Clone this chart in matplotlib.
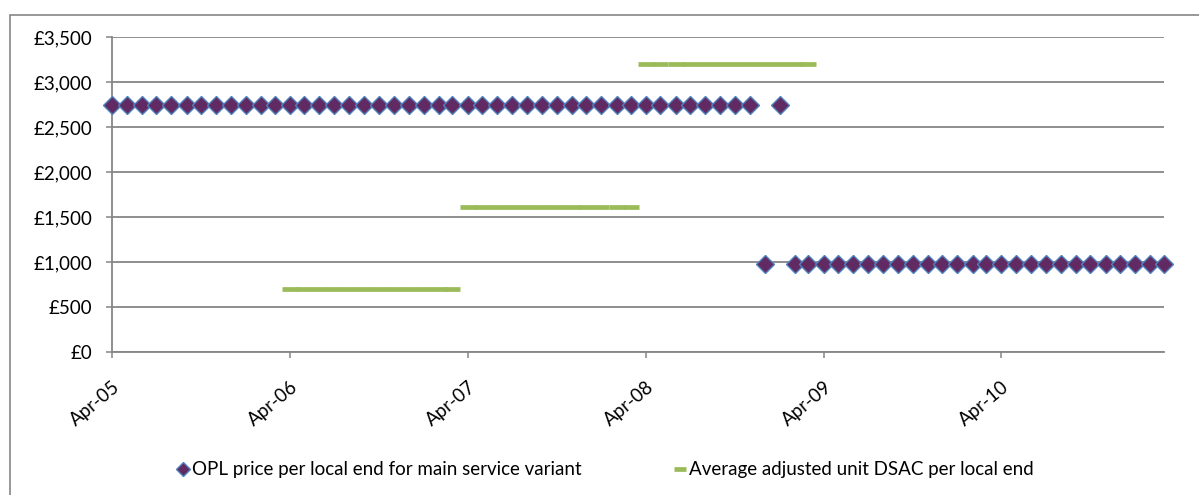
import matplotlib
matplotlib.use("Agg")
import matplotlib.pyplot as plt
from matplotlib.patches import Rectangle
from matplotlib.ticker import FuncFormatter, MultipleLocator
import pandas as pd

plt.rcParams['font.family'] = ['Lato', 'DejaVu Sans']

# Monthly OPL price per local end (main service variant)
months = pd.date_range('2005-04-01', '2011-03-01', freq='MS')
opl_price = ([2750] * 44      # Apr-05 .. Nov-08
             + [980]          # Dec-08
             + [2750]         # Jan-09
             + [980] * 26)    # Feb-09 .. Mar-11

# Average adjusted unit DSAC per local end, one value per financial year
dsac_months = pd.date_range('2006-04-01', '2009-03-01', freq='MS')
dsac_year_values = [700, 1615, 3200]
dsac_values = [v for v in dsac_year_values for _ in range(12)]

tick_dates = pd.date_range('2005-04-01', '2010-04-01', freq='12MS')
tick_labels = ['Apr-05', 'Apr-06', 'Apr-07', 'Apr-08', 'Apr-09', 'Apr-10']

W, H = 1199, 495
fig = plt.figure(figsize=(W / 100, H / 100), dpi=100)
ax = fig.add_axes([112 / W, 1 - 352 / H, (1164 - 112) / W, (352 - 37.3) / H])

grey = '#868686'
purple = '#612a62'
blue = '#4f81bd'
green = '#9bbb59'

ax.plot(months, opl_price, linestyle='none', marker='D', markersize=9,
        markerfacecolor=purple, markeredgecolor=blue, markeredgewidth=1.0,
        clip_on=False, zorder=4,
        label='OPL price per local end for main service variant')
ax.plot(dsac_months, dsac_values, linestyle='none', marker='_', markersize=11,
        markeredgewidth=3.4, color=green, zorder=3,
        label='Average adjusted unit DSAC per local end')

ax.set_ylim(0, 3500)
ax.set_xlim(months[0], months[-1])
ax.yaxis.set_major_locator(MultipleLocator(500))
ax.yaxis.set_major_formatter(FuncFormatter(lambda v, p: f'£{int(v):,}'))
ax.set_xticks(tick_dates)
ax.set_xticklabels(tick_labels, rotation=40, ha='right', rotation_mode='anchor')

ax.grid(axis='y', color=grey, linewidth=1.3)
ax.set_axisbelow(True)
for side in ('top', 'right'):
    ax.spines[side].set_visible(False)
for side in ('left', 'bottom'):
    ax.spines[side].set_color(grey)
    ax.spines[side].set_linewidth(1.3)

ax.tick_params(axis='both', colors=grey, labelcolor='black', labelsize=13.5,
               length=4, width=1.1, direction='out')
ax.tick_params(axis='y', pad=10)
ax.tick_params(axis='x', pad=15)

fig.legend(loc='center', bbox_to_anchor=(605 / W, 1 - 470 / H), ncol=2,
           frameon=False, fontsize=13.5, handlelength=0.7, handletextpad=0.15,
           columnspacing=4.9, markerscale=0.75)

fig.add_artist(Rectangle((10 / W, -0.05), 1.05, (1 - 15 / H) + 0.05,
                         transform=fig.transFigure, fill=False,
                         edgecolor=grey, linewidth=1.2))

fig.savefig('out.png', dpi=100, facecolor='white')
